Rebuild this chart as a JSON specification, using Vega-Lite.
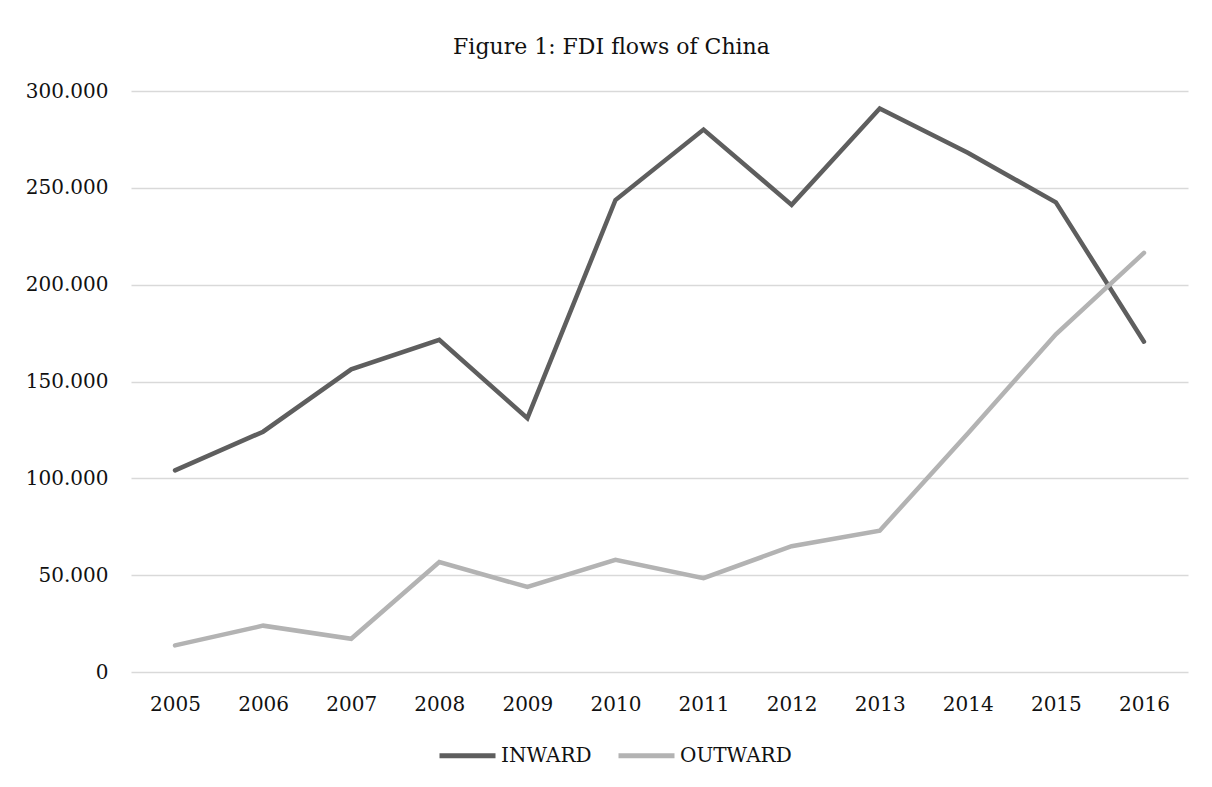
{
  "$schema": "https://vega.github.io/schema/vega-lite/v6.json",
  "autosize": {"type": "none"},
  "width": 1057,
  "height": 581,
  "padding": {"left": 131, "top": 91, "right": 24, "bottom": 115},
  "background": "white",
  "config": {"view": {"stroke": null}},
  "title": {
    "text": "Figure 1: FDI flows of China",
    "font": "DejaVu Serif",
    "fontSize": 22,
    "fontWeight": "normal",
    "color": "#111111",
    "anchor": "middle",
    "frame": "group",
    "dx": -48,
    "offset": 22
  },
  "data": {
    "values": [
      {"year": "2005", "series": "INWARD", "value": 104.109},
      {"year": "2006", "series": "INWARD", "value": 124.082},
      {"year": "2007", "series": "INWARD", "value": 156.249},
      {"year": "2008", "series": "INWARD", "value": 171.535},
      {"year": "2009", "series": "INWARD", "value": 131.057},
      {"year": "2010", "series": "INWARD", "value": 243.703},
      {"year": "2011", "series": "INWARD", "value": 280.072},
      {"year": "2012", "series": "INWARD", "value": 241.214},
      {"year": "2013", "series": "INWARD", "value": 290.928},
      {"year": "2014", "series": "INWARD", "value": 268.097},
      {"year": "2015", "series": "INWARD", "value": 242.489},
      {"year": "2016", "series": "INWARD", "value": 170.557},
      {"year": "2005", "series": "OUTWARD", "value": 13.73},
      {"year": "2006", "series": "OUTWARD", "value": 23.933},
      {"year": "2007", "series": "OUTWARD", "value": 17.155},
      {"year": "2008", "series": "OUTWARD", "value": 56.742},
      {"year": "2009", "series": "OUTWARD", "value": 43.89},
      {"year": "2010", "series": "OUTWARD", "value": 57.954},
      {"year": "2011", "series": "OUTWARD", "value": 48.421},
      {"year": "2012", "series": "OUTWARD", "value": 64.963},
      {"year": "2013", "series": "OUTWARD", "value": 72.971},
      {"year": "2014", "series": "OUTWARD", "value": 123.13},
      {"year": "2015", "series": "OUTWARD", "value": 174.391},
      {"year": "2016", "series": "OUTWARD", "value": 216.424}
    ]
  },
  "mark": {"type": "line", "strokeWidth": 4.5, "strokeCap": "round", "strokeJoin": "miter"},
  "encoding": {
    "x": {
      "field": "year",
      "type": "ordinal",
      "scale": {"type": "point", "padding": 0.5},
      "axis": {
        "title": null,
        "labelAngle": 0,
        "ticks": false,
        "domain": false,
        "grid": false,
        "labelPadding": 22,
        "labelFont": "DejaVu Serif",
        "labelFontSize": 20,
        "labelColor": "#111111"
      }
    },
    "y": {
      "field": "value",
      "type": "quantitative",
      "scale": {"domain": [0, 300], "nice": false},
      "axis": {
        "title": null,
        "values": [0, 50, 100, 150, 200, 250, 300],
        "labelExpr": "datum.value == 0 ? '0' : format(datum.value, '.3f')",
        "ticks": false,
        "domain": false,
        "grid": true,
        "gridColor": "#d9d9d9",
        "gridWidth": 1.4,
        "labelPadding": 23,
        "labelFont": "DejaVu Serif",
        "labelFontSize": 20,
        "labelColor": "#111111"
      }
    },
    "color": {
      "field": "series",
      "type": "nominal",
      "scale": {"domain": ["INWARD", "OUTWARD"], "range": ["#5e5e5e", "#b3b3b3"]},
      "legend": {
        "title": null,
        "orient": "none",
        "direction": "horizontal",
        "legendX": 306,
        "legendY": 634,
        "padding": 0,
        "symbolType": "stroke",
        "symbolSize": 3136,
        "symbolStrokeWidth": 5,
        "labelOffset": 3,
        "columnPadding": 16,
        "labelFont": "DejaVu Serif",
        "labelFontSize": 20,
        "labelColor": "#111111"
      }
    }
  }
}
